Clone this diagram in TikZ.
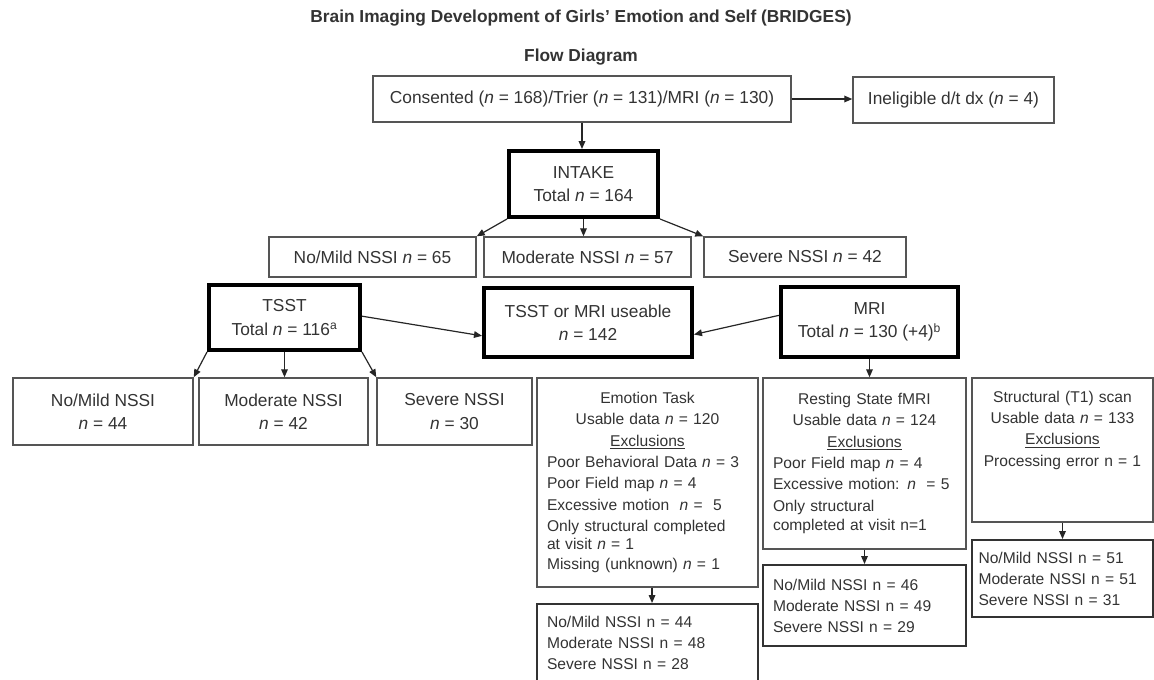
\documentclass[tikz,border=0pt]{standalone}
\usepackage{fontspec}
\setmainfont{Liberation Sans}
\usetikzlibrary{arrows.meta,calc}
\definecolor{txt}{HTML}{333333}
\definecolor{bord}{HTML}{555555}
\definecolor{bord2}{HTML}{333333}
\newcommand\nn{\textit{n}}
\begin{document}
\begin{tikzpicture}[x=0.75pt,y=-0.75pt,
  every node/.style={text=txt},
  sz/.style 2 args={minimum width=#1*0.75pt,minimum height=#2*0.75pt},
  thinbox/.style={draw=bord,line width=1.1pt,inner sep=0pt,align=center,font=\fontsize{13}{17.5}\selectfont},
  thickbox/.style={draw=black,line width=3pt,inner sep=0pt,align=center,font=\fontsize{13}{17.5}\selectfont},
  detbox/.style={draw=bord,line width=1.1pt,inner sep=0pt,align=left,font=\fontsize{11.7}{16}\selectfont},
  outbox/.style={draw=bord2,line width=1.5pt,inner sep=0pt,align=left,font=\fontsize{11.7}{15.75}\selectfont},
  arr/.style={draw=black!85,line width=0.9pt,-{Triangle[length=6pt,width=5pt]}},
  ttl/.style={font=\bfseries\fontsize{13}{15}\selectfont}
]
\useasboundingbox (0,0) rectangle (1154,679);
\node[ttl] (title) at (581,18) {Brain Imaging Development of Girls' Emotion and Self (BRIDGES)};
\node[ttl] (sub) at (581,57) {Flow Diagram};

\node[thinbox,sz={418}{46}] (cons) at (582,99) {Consented (\nn{} = 168)/Trier (\nn{} = 131)/MRI (\nn{} = 130)};
\node[thinbox,sz={201}{46}] (inel) at (953.5,100) {Ineligible d/t dx (\nn{} = 4)};
\node[thickbox,sz={149}{66}] (intake) at (583.5,184) {INTAKE\\Total \nn{} = 164};
\node[thinbox,sz={207}{40}] (nm65) at (372.5,257) {No/Mild NSSI \nn{} = 65};
\node[thinbox,sz={207}{40}] (mod57) at (587.5,257) {Moderate NSSI \nn{} = 57};
\node[thinbox,sz={202}{40}] (sev42) at (805,257) {Severe NSSI \nn{} = 42};

\node[thickbox,sz={151}{65}] (tsst) at (284.5,317.5) {TSST\\Total \nn{} = 116\textsuperscript{a}};
\node[thickbox,sz={208}{69}] (either) at (588,322.5) {TSST or MRI useable\\\nn{} = 142};
\node[thickbox,sz={177}{70}] (mri) at (869.5,322) {MRI\\Total \nn{} = 130 (+4)\textsuperscript{b}};

\node[thinbox,sz={180}{67}] (b44) at (103,411.5) {No/Mild NSSI\\\nn{} = 44};
\node[thinbox,sz={169}{67}] (b42) at (283.5,411.5) {Moderate NSSI\\\nn{} = 42};
\node[thinbox,sz={155}{67}] (b30) at (454.5,411.5) {Severe NSSI\\\nn{} = 30};

\node[detbox,sz={221}{209},text width=150.75pt] (emo) at (647.5,482.5)
 {\centering Emotion Task\\Usable data \nn{} = 120\\\underline{Exclusions}\par
  \raggedright Poor Behavioral Data \nn{} = 3\\Poor Field map \nn{} = 4\\Excessive motion\ \ \nn{} =\ \ 5\\Only structural completed\\[-2.5pt]at visit \nn{} = 1\\[-1pt]Missing (unknown) \nn{} = 1\par};
\node[outbox,sz={221}{78},text width=150.75pt] (emoout) at (647.5,643)
 {No/Mild NSSI n = 44\\Moderate NSSI n = 48\\Severe NSSI n = 28};

\node[detbox,sz={203}{171},text width=137.25pt] (rest) at (864.5,463.5)
 {\centering Resting State fMRI\\Usable data \nn{} = 124\\\underline{Exclusions}\par
  \raggedright Poor Field map \nn{} = 4\\Excessive motion: \nn{}\ \ = 5\\Only structural\\[-1.5pt]completed at visit n=1\par};
\node[outbox,sz={203}{81},text width=137.25pt] (restout) at (864.5,605.5)
 {No/Mild NSSI n = 46\\Moderate NSSI n = 49\\Severe NSSI n = 29};

\node[detbox,sz={181}{144},text width=126pt] (struc) at (1062.5,450)
 {\centering Structural (T1) scan\\Usable data \nn{} = 133\\\underline{Exclusions}\\Processing error n = 1\\\mbox{}\\\mbox{}\par};
\node[outbox,sz={181}{77},text width=126pt] (strucout) at (1062.5,578.5)
 {No/Mild NSSI n = 51\\Moderate NSSI n = 51\\Severe NSSI n = 31};

\draw[arr] (cons.south) -- (cons.south |- intake.north);
\draw[arr] (cons.east) -- (cons.east -| inel.west);
\draw[arr] (intake.south west) -- (nm65.north east);
\draw[arr] (intake.south) -- (intake.south |- mod57.north);
\draw[arr] (intake.south east) -- (sev42.north west);
\draw[arr] ([yshift=1pt]tsst.east) -- ([yshift=-10pt]either.west);
\draw[arr] ([yshift=5pt]mri.west) -- ([yshift=-9pt]either.east);
\draw[arr] (tsst.south west) -- (b44.north east);
\draw[arr] (tsst.south) -- (tsst.south |- b42.north);
\draw[arr] (tsst.south east) -- (b30.north west);
\draw[arr] (mri.south) -- (mri.south |- rest.north);
\draw[arr] ([xshift=3.4pt]emo.south) -- ([xshift=3.4pt]emoout.north);
\draw[arr] (rest.south) -- (restout.north);
\draw[arr] (struc.south) -- (strucout.north);
\end{tikzpicture}
\end{document}
